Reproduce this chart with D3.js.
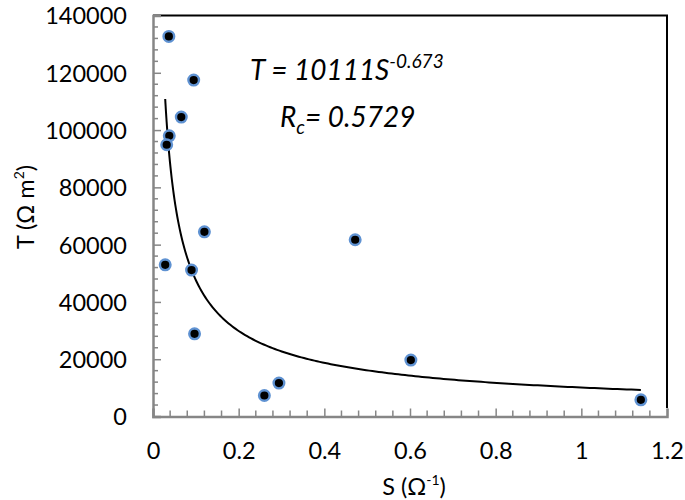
<!DOCTYPE html>
<html><head><meta charset="utf-8">
<script src="https://cdn.jsdelivr.net/npm/d3@7"></script>
<style>body{margin:0;background:#fff}svg{display:block}text{font-family:Lato,"Open Sans",sans-serif;fill:#000}</style>
</head><body>
<svg id="c" width="685" height="500"></svg>
<script>
const sValues = [0.037,0.095,0.066,0.038,0.032,0.120,0.0285,0.090,0.097,0.472,0.602,0.260,0.294,1.139];
const tValues = [132700,117450,104540,98000,94870,64490,52970,51120,28880,61700,19690,7330,11660,5830];
const xTicks = [0,0.2,0.4,0.6,0.8,1,1.2];
const yTicks = [0,20000,40000,60000,80000,100000,120000,140000];
const fitCoef = [10111, -0.673];
const fitR = ["0.5729"];

const svg = d3.select("#c");
const x = d3.scaleLinear().domain([0,1.2]).range([153,667]);
const y = d3.scaleLinear().domain([0,140000]).range([416.5,15.5]);
const axisCol = "#868686";

svg.append("line").attr("x1",x(0)).attr("x2",x(1.2)+1).attr("y1",y(140000)).attr("y2",y(140000)).attr("stroke","#000").attr("stroke-width",2);
svg.append("line").attr("x1",x(1.2)).attr("x2",x(1.2)).attr("y1",y(140000)).attr("y2",y(3000)).attr("stroke","#000").attr("stroke-width",2);

const xMinor = d3.range(0,61).map(i=>i*0.02).filter((v,i)=>i%2===0 && i%10!==0);
const yMinor = d3.range(0,36).map(i=>i*4000).filter(v=>v%20000!==0);
const gx = svg.append("g").attr("transform",`translate(0,${y(0)})`)
  .call(d3.axisBottom(x).tickValues(xTicks).tickSize(-8).tickPadding(0).tickFormat(d=>d3.format("")(d)));
gx.select(".domain").attr("stroke",axisCol).attr("stroke-width",2.5);
gx.selectAll(".tick line").attr("stroke",axisCol).attr("stroke-width",1.5);
gx.selectAll(".tick text").attr("y",42).attr("dy",null).attr("font-size","23.5px").attr("font-family","Lato");
svg.append("g").selectAll("line").data(xMinor).join("line")
  .attr("x1",d=>x(d)).attr("x2",d=>x(d)).attr("y1",y(0)).attr("y2",y(0)-6).attr("stroke",axisCol).attr("stroke-width",1.5);

const gy = svg.append("g").attr("transform",`translate(${x(0)},0)`)
  .call(d3.axisLeft(y).tickValues(yTicks).tickSize(-8).tickPadding(0).tickFormat(d=>String(d)));
gy.select(".domain").attr("stroke",axisCol).attr("stroke-width",2.5);
gy.selectAll(".tick line").attr("stroke",axisCol).attr("stroke-width",1.5);
gy.selectAll(".tick text").attr("x",-26).attr("dy","0.36em").attr("font-size","23.5px").attr("font-family","Lato");
svg.append("g").selectAll("line").data(yMinor).join("line")
  .attr("x1",x(0)).attr("x2",x(0)+5).attr("y1",d=>y(d)).attr("y2",d=>y(d)).attr("stroke",axisCol).attr("stroke-width",1.5);
gx.select(".domain").raise();

const sMin = d3.min(sValues), sMax = d3.max(sValues);
const curveS = d3.range(0,201).map(i=>sMin+(sMax-sMin)*Math.pow(i/200,2));
svg.append("path").datum(curveS)
  .attr("d",d3.line().x(d=>x(d)).y(d=>y(fitCoef[0]*Math.pow(d,fitCoef[1]))))
  .attr("fill","none").attr("stroke","#000").attr("stroke-width",2);

svg.append("g").selectAll("circle").data(sValues.map((s,i)=>[s,tValues[i]])).join("circle")
  .attr("cx",d=>x(d[0])).attr("cy",d=>y(d[1])).attr("r",5.3)
  .attr("fill","#000").attr("stroke","#5f92d2").attr("stroke-width",2.4);

const eq = svg.append("text").attr("x",250).attr("y",80).attr("font-size","28px").attr("font-style","italic");
eq.append("tspan").text(`T = ${fitCoef[0]}S`);
eq.append("tspan").attr("dy",-12).attr("font-size","19px").text(String(fitCoef[1]));
const rc = svg.append("text").attr("x",280).attr("y",127).attr("font-size","28px").attr("font-style","italic");
rc.append("tspan").text("R");
rc.append("tspan").attr("dy",7).attr("font-size","19px").text("c");
rc.append("tspan").attr("dy",-7).text(`= ${fitR[0]}`);

const xt = svg.append("text").attr("x",414).attr("y",495).attr("text-anchor","middle").attr("font-size","23.5px");
xt.append("tspan").text("S (Ω");
xt.append("tspan").attr("dy",-10).attr("font-size","14px").text("-1");
xt.append("tspan").attr("dy",10).text(")");
const yt = svg.append("text").attr("transform","translate(34,207) rotate(-90)").attr("text-anchor","middle").attr("font-size","23.5px");
yt.append("tspan").text("T (Ω m");
yt.append("tspan").attr("dy",-10).attr("font-size","14px").text("2");
yt.append("tspan").attr("dy",10).text(")");
</script>
</body></html>
